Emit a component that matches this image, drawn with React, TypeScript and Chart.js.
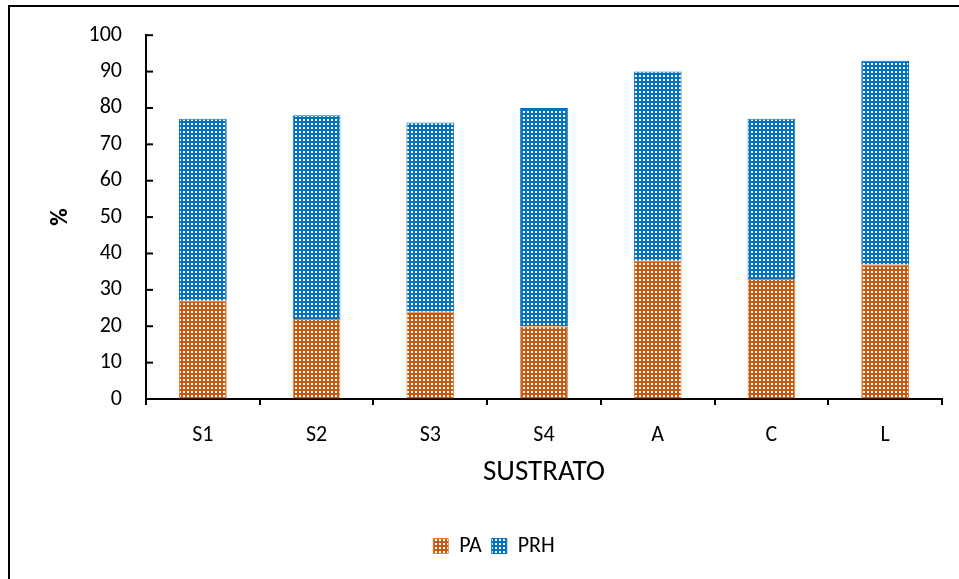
import React, { useEffect, useRef } from "react";
import { Chart, registerables } from "chart.js";

Chart.register(...registerables);

const categories = ["S1", "S2", "S3", "S4", "A", "C", "L"];
const paValues = [27, 22, 24, 20, 38, 33, 37];
const prhValues = [50, 56, 52, 60, 52, 44, 56];
const yTicks = [0, 10, 20, 30, 40, 50, 60, 70, 80, 90, 100];

const FONT = "Carlito, Calibri, Lato, 'Open Sans', sans-serif";

function makePattern(base: string) {
  const c = document.createElement("canvas");
  c.width = 4;
  c.height = 4;
  const g = c.getContext("2d")!;
  g.fillStyle = base;
  g.fillRect(0, 0, 4, 4);
  g.fillStyle = "#ffffff";
  g.fillRect(1, 1, 2, 2);
  return g.createPattern(c, "repeat")!;
}

const innerTicks = {
  id: "innerTicks",
  afterLayout(chart: any) {
    if (chart.legend) {
      chart.legend.left += 18;
      chart.legend.right += 18;
    }
  },
  afterDraw(chart: any) {
    const y = chart.scales.y;
    const ctx = chart.ctx;
    const left = chart.chartArea.left;
    ctx.save();
    ctx.strokeStyle = "#000";
    ctx.lineWidth = 2;
    yTicks.forEach((v) => {
      const py = y.getPixelForValue(v);
      ctx.beginPath();
      ctx.moveTo(left, py);
      ctx.lineTo(left + 7, py);
      ctx.stroke();
    });
    ctx.restore();
  },
};

export default function App() {
  const ref = useRef<HTMLCanvasElement>(null);
  useEffect(() => {
    const orange = makePattern("#C65911");
    const blue = makePattern("#0070C0");
    const chart = new Chart(ref.current!, {
      type: "bar",
      data: {
        labels: categories,
        datasets: [
          {
            label: "PA",
            data: paValues,
            backgroundColor: orange,
            borderColor: "#ED7D31",
            borderWidth: 1,
            barPercentage: 0.42,
            categoryPercentage: 1,
          },
          {
            label: "PRH",
            data: prhValues,
            backgroundColor: blue,
            borderColor: "#0070C0",
            borderWidth: 1,
            barPercentage: 0.42,
            categoryPercentage: 1,
          },
        ],
      },
      options: {
        animation: false,
        responsive: false,
        maintainAspectRatio: false,
        layout: { padding: { top: 12, right: 17, bottom: 12, left: 0 } },
        plugins: {
          tooltip: { enabled: false },
          legend: {
            position: "bottom",
            labels: {
              boxWidth: 15,
              boxHeight: 15,
              padding: 10,
              color: "#000",
              font: { family: FONT, size: 22 },
            },
          },
        },
        scales: {
          x: {
            stacked: true,
            afterFit: (s: any) => {
              s.height = 126;
            },
            grid: {
              display: true,
              drawOnChartArea: false,
              drawTicks: true,
              tickLength: 6,
              offset: true,
              color: "#000",
              lineWidth: 2,
            },
            border: { display: true, color: "#000", width: 2 },
            ticks: {
              color: "#000",
              padding: 17,
              font: { family: FONT, size: 22 },
            },
            title: {
              display: true,
              text: "SUSTRATO",
              color: "#000",
              font: { family: FONT, size: 29 },
              padding: { top: 0, bottom: 35 },
            },
          },
          y: {
            stacked: true,
            min: 0,
            max: 100,
            afterFit: (s: any) => {
              s.width = 136;
            },
            afterBuildTicks: (s: any) => {
              s.ticks = yTicks.map((v) => ({ value: v }));
            },
            grid: { display: true, drawOnChartArea: false, drawTicks: false },
            border: { display: true, color: "#000", width: 2 },
            ticks: {
              color: "#000",
              padding: 24,
              font: { family: FONT, size: 22 },
            },
            title: {
              display: true,
              text: "%",
              color: "#000",
              font: { family: FONT, size: 24, weight: "bold" },
              padding: { top: 37, bottom: 0 },
            },
          },
        },
      },
      plugins: [innerTicks],
    });
    return () => chart.destroy();
  }, []);

  return (
    <div
      style={{
        position: "absolute",
        left: 8,
        top: 5,
        width: 951,
        height: 574,
        borderLeft: "2px solid #000",
        borderTop: "2px solid #000",
        background: "#fff",
      }}
    >
      <canvas
        ref={ref}
        width={949}
        height={581}
        style={{ display: "block", position: "absolute", left: 0, top: -9 }}
      />
    </div>
  );
}
